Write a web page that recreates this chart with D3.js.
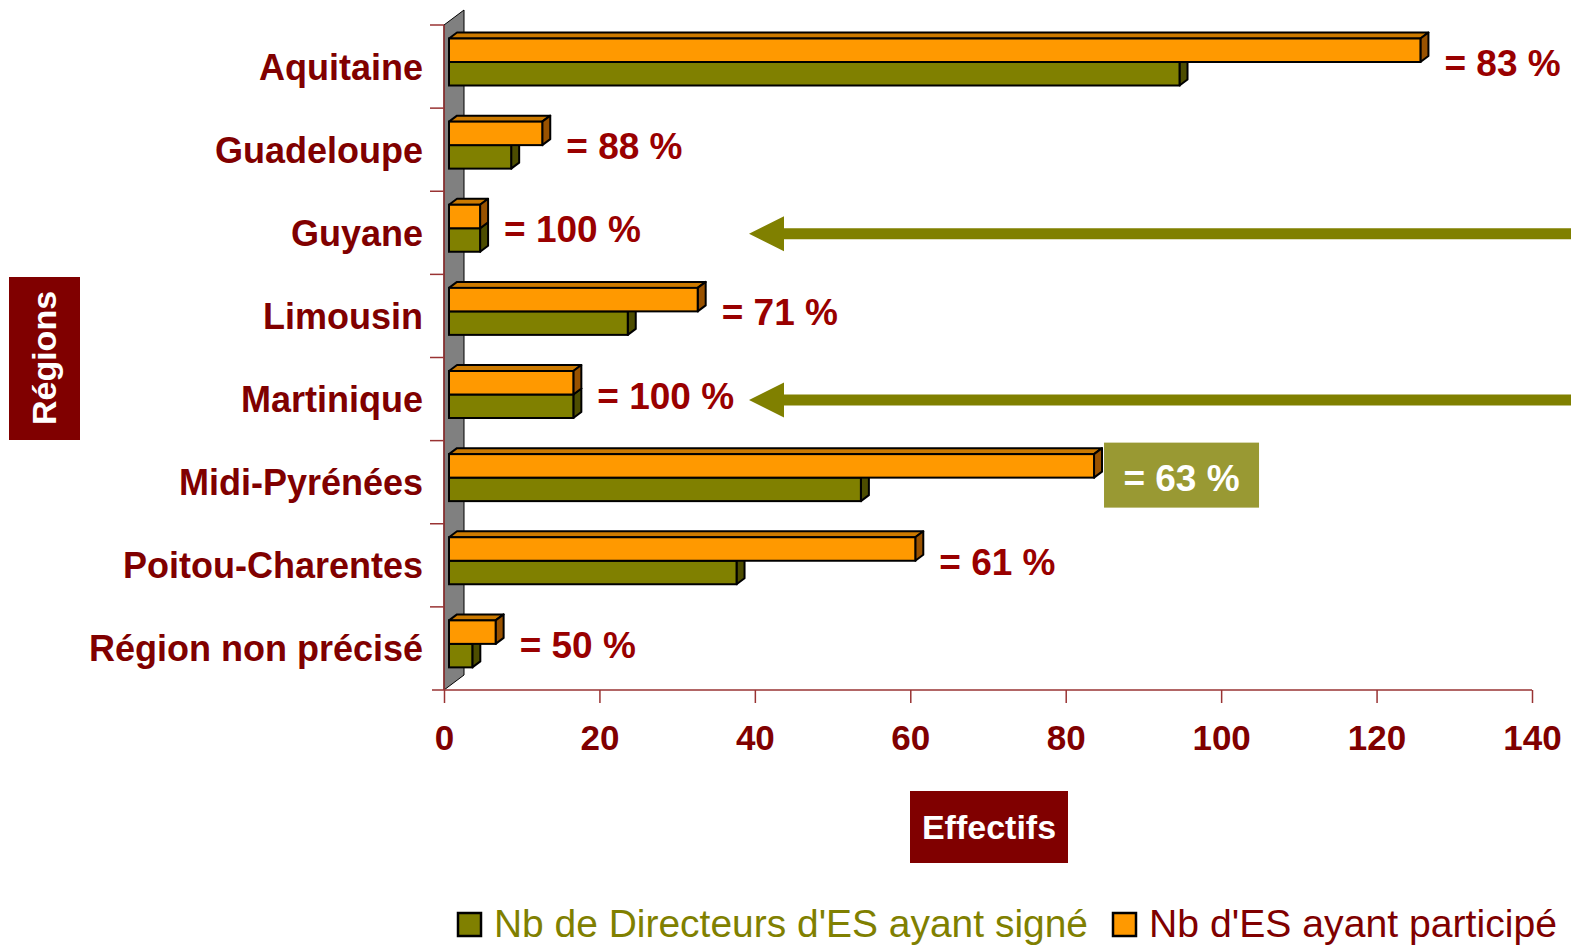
<!DOCTYPE html>
<html>
<head>
<meta charset="utf-8">
<script src="https://cdn.jsdelivr.net/npm/d3@7"></script>
<style>
  body { margin: 0; background: #fff; }
  svg { display: block; font-family: Arial, "Liberation Sans", sans-serif; }
</style>
</head>
<body>
<svg id="chart"></svg>
<script>
// data
const regions = ["Aquitaine", "Guadeloupe", "Guyane", "Limousin", "Martinique",
                 "Midi-Pyrénées", "Poitou-Charentes", "Région non précisé"];
const participated = [125, 12, 4, 32, 16, 83, 60, 6];   // Nb d'ES ayant participé
const signed = [94, 8, 4, 23, 16, 53, 37, 3];            // Nb de Directeurs d'ES ayant signé
const rateLabels = ["= 83 %", "= 88 %", "= 100 %", "= 71 %", "= 100 %", "= 63 %", "= 61 %", "= 50 %"];
const highlighted = ["Midi-Pyrénées"];
const arrowed = ["Guyane", "Martinique"];
const xTicks = [0, 20, 40, 60, 80, 100, 120, 140];

const width = 1571,
      height = 947;
const darkRed = "#800000",
      labelRed = "#990000",
      axisRed = "#993333",
      olive = "#808000",
      orange = "#FF9900";

const svg = d3.select("#chart")
    .attr("width", width)
    .attr("height", height);

const x = d3.scaleLinear()
    .domain([0, 140])
    .range([444, 1532]);

const y = d3.scaleBand()
    .domain(regions)
    .range([25, 690]);

const bw = y.bandwidth();
const barH = 23.5,
      barTop = 13.5;
const dx = 8, dy = -6;     // bar depth
const shift = 5;           // bars sit a little behind the front plane

// back wall
svg.append("polygon")
    .attr("points", [[444, 25], [464, 10], [464, 675], [444, 690]].join(" "))
    .attr("fill", "#808080")
    .attr("stroke", "#000")
    .attr("stroke-width", 1);

// y axis line + ticks
svg.append("line")
    .attr("x1", 444).attr("x2", 444)
    .attr("y1", 25).attr("y2", 690)
    .attr("stroke", axisRed).attr("stroke-width", 1.5);

svg.selectAll(".ytick")
    .data(regions)
    .enter()
    .append("line")
    .attr("x1", 430).attr("x2", 444)
    .attr("y1", d => y(d)).attr("y2", d => y(d))
    .attr("stroke", axisRed).attr("stroke-width", 1.5);

// x axis
const xAxisGroup = svg.append("g")
    .attr("transform", `translate(0,690)`)
    .call(d3.axisBottom(x).tickValues(xTicks).tickSize(13).tickPadding(20).tickSizeOuter(0));

xAxisGroup.select(".domain")
    .attr("d", `M432,0H${x(140)}`)
    .attr("stroke", axisRed)
    .attr("stroke-width", 1.5);

xAxisGroup.selectAll(".tick line")
    .attr("stroke", axisRed)
    .attr("stroke-width", 1.5);

xAxisGroup.selectAll("text")
    .attr("fill", darkRed)
    .style("font-size", "35px")
    .style("font-weight", "bold")
    .attr("y", 60)
    .attr("dy", 0);

// 3D bars
function drawBar(g, x0, x1, top, h, front, topFace, side) {
    g.append("polygon")
        .attr("points", [[x0, top], [x0 + dx, top + dy], [x1 + dx, top + dy], [x1, top]].join(" "))
        .attr("fill", topFace).attr("stroke", "#000").attr("stroke-width", 2).attr("stroke-linejoin", "round");
    g.append("polygon")
        .attr("points", [[x1, top], [x1 + dx, top + dy], [x1 + dx, top + h + dy], [x1, top + h]].join(" "))
        .attr("fill", side).attr("stroke", "#000").attr("stroke-width", 2).attr("stroke-linejoin", "round");
    g.append("rect")
        .attr("x", x0).attr("y", top)
        .attr("width", x1 - x0).attr("height", h)
        .attr("fill", front).attr("stroke", "#000").attr("stroke-width", 2);
}

const bars = svg.append("g");
regions.forEach((r, i) => {
    const top = y(r) + barTop;
    const x0 = x(0) + shift;
    drawBar(bars, x0, x(signed[i]) + shift, top + barH, barH, olive, "#666600", "#4D4D00");
    drawBar(bars, x0, x(participated[i]) + shift, top, barH, orange, "#CC7A00", "#995200");
});

// category labels
svg.selectAll(".cat")
    .data(regions)
    .enter()
    .append("text")
    .attr("x", 423)
    .attr("y", d => y(d) + bw / 2 + 13)
    .attr("text-anchor", "end")
    .attr("fill", darkRed)
    .style("font-size", "36px")
    .style("font-weight", "bold")
    .text(d => d);

// rate labels
regions.forEach((r, i) => {
    const cy = y(r) + barTop + barH + 1;
    const lx = x(participated[i]) + shift + dx;
    if (highlighted.includes(r)) {
        svg.append("rect")
            .attr("x", lx + 2).attr("y", y(r) + 2)
            .attr("width", 155).attr("height", 65)
            .attr("fill", "#999933");
        svg.append("text")
            .attr("x", lx + 2 + 77.5).attr("y", cy + 12)
            .attr("text-anchor", "middle")
            .attr("fill", "#fff")
            .style("font-size", "37px").style("font-weight", "bold")
            .text(rateLabels[i]);
    } else {
        svg.append("text")
            .attr("x", lx + 16).attr("y", cy + 13)
            .attr("fill", labelRed)
            .style("font-size", "37px").style("font-weight", "bold")
            .text(rateLabels[i]);
    }
});

// arrows pointing at the 100 % regions
arrowed.forEach(r => {
    const cy = y(r) + bw / 2 + 1;
    const tip = 749;
    svg.append("polygon")
        .attr("points", [[width, cy - 5.5], [tip + 35, cy - 5.5], [tip + 35, cy - 17.5], [tip, cy],
                         [tip + 35, cy + 17.5], [tip + 35, cy + 5.5], [width, cy + 5.5]].join(" "))
        .attr("fill", olive);
});

// axis titles
svg.append("rect")
    .attr("x", 9).attr("y", 277).attr("width", 71).attr("height", 163)
    .attr("fill", darkRed);
svg.append("text")
    .attr("transform", "translate(56,358) rotate(-90)")
    .attr("text-anchor", "middle")
    .attr("fill", "#fff")
    .style("font-size", "34px").style("font-weight", "bold")
    .text("Régions");

svg.append("rect")
    .attr("x", 910).attr("y", 791).attr("width", 158).attr("height", 72)
    .attr("fill", darkRed);
svg.append("text")
    .attr("x", 989).attr("y", 839)
    .attr("text-anchor", "middle")
    .attr("fill", "#fff")
    .style("font-size", "34px").style("font-weight", "bold")
    .text("Effectifs");

// legend
const legend = [
    { label: "Nb de Directeurs d'ES ayant signé", fill: olive, text: olive, x: 458, len: 594 },
    { label: "Nb d'ES ayant participé", fill: orange, text: darkRed, x: 1113, len: 408 }
];
const lg = svg.append("g");
legend.forEach(l => {
    lg.append("rect")
        .attr("x", l.x).attr("y", 913).attr("width", 23).attr("height", 23)
        .attr("fill", l.fill).attr("stroke", "#000").attr("stroke-width", 2.5);
    lg.append("text")
        .attr("x", l.x + 36).attr("y", 937)
        .attr("fill", l.text)
        .attr("textLength", l.len)
        .attr("lengthAdjust", "spacingAndGlyphs")
        .style("font-size", "38px")
        .text(l.label);
});
</script>
</body>
</html>
